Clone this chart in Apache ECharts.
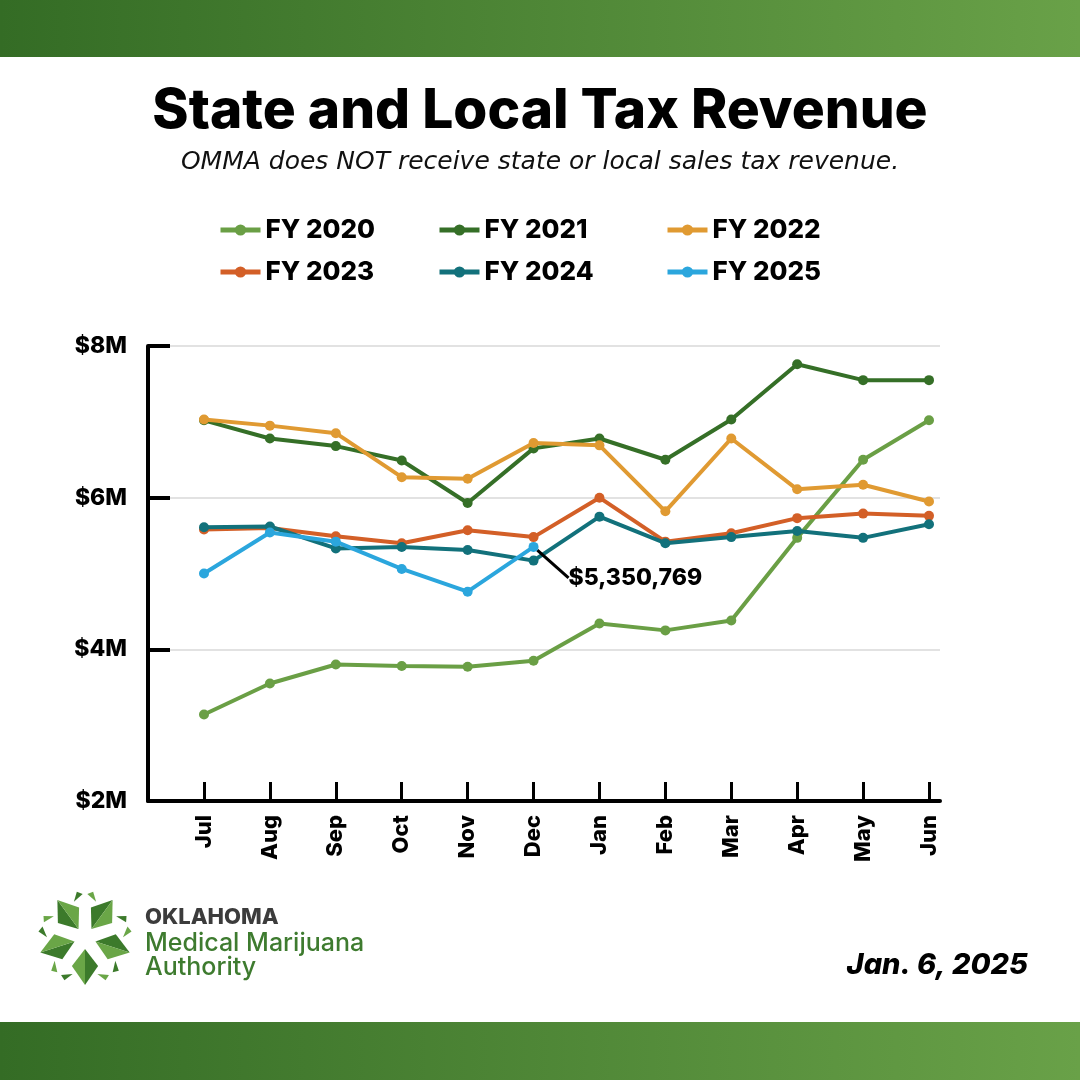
<!DOCTYPE html>
<html>
<head>
<meta charset="utf-8">
<script src="https://cdn.jsdelivr.net/npm/echarts@6/dist/echarts.min.js"></script>
<style>
html,body{margin:0;padding:0;background:#fff;}
#chart{width:1080px;height:1080px;}
</style>
</head>
<body>
<div id="chart"></div>
<script>
// ---- data (values in $ millions) ----
var months = ['Jul','Aug','Sep','Oct','Nov','Dec','Jan','Feb','Mar','Apr','May','Jun'];
var seriesNames = ['FY 2020','FY 2021','FY 2022','FY 2023','FY 2024','FY 2025'];
var fy2020 = [3.14,3.55,3.80,3.78,3.77,3.85,4.34,4.25,4.38,5.47,6.50,7.02];
var fy2021 = [7.02,6.78,6.68,6.49,5.93,6.65,6.78,6.50,7.03,7.76,7.55,7.55];
var fy2022 = [7.03,6.95,6.85,6.27,6.25,6.72,6.69,5.82,6.78,6.11,6.17,5.95];
var fy2023 = [5.58,5.60,5.49,5.40,5.57,5.48,6.00,5.42,5.53,5.73,5.79,5.76];
var fy2024 = [5.61,5.62,5.33,5.35,5.31,5.17,5.75,5.40,5.48,5.56,5.47,5.65];
var fy2025 = [5.00,5.54,5.42,5.06,4.76,5.350769];
var yTicks = [2,4,6,8];
var annotationIndex = 5;
var annotationText = '$5,350,769';

var colors = ['#6a9f45','#356f27','#e09a32','#d35f27','#12717b','#2ba6dd'];
var allData = [fy2020,fy2021,fy2022,fy2023,fy2024,fy2025];

var chart = echarts.init(document.getElementById('chart'), null, {renderer:'canvas'});
var FONT = 'Inter, "Open Sans", sans-serif';
var SUBFONT = '"DejaVu Sans", "Open Sans", sans-serif';

function mkSeries(i){
  var s = {
    name: seriesNames[i],
    type: 'line',
    xAxisIndex: 1, yAxisIndex: 1,
    data: allData[i].slice(),
    symbol: 'circle',
    symbolSize: 10,
    showSymbol: true,
    lineStyle: {width: 4, color: colors[i]},
    itemStyle: {color: colors[i]},
    emphasis: {disabled: true},
    animation: false,
    z: 3 + i
  };
  if (i === 5) {
    s.data = allData[i].map(function(v, k){
      if (k !== annotationIndex) return v;
      return {
        value: v,
        label: {
          show: true, position: 'right', formatter: annotationText,
          color: '#000', fontFamily: FONT, fontWeight: 800, fontSize: 23
        },
        labelLine: {show: true, lineStyle: {color: '#000', width: 3}}
      };
    });
    s.labelLayout = {dx: 25, dy: 31};
    s.labelLine = {show: true, lineStyle: {color: '#000', width: 3}};
  }
  return s;
}

// logo pieces (decorative)
function P(cx, cy, r, deg){ var a = deg*Math.PI/180; return [cx + r*Math.cos(a), cy + r*Math.sin(a)]; }
var logoShapes = [];
(function(){
  var cx = 85, cy = 938;
  for (var k = 0; k < 5; k++) {
    var t = -90 + 36 + 72*k;
    var inner = P(cx,cy,11,t), outer = P(cx,cy,47,t);
    logoShapes.push({type:'polygon', shape:{points:[inner,P(cx,cy,31,t-25),outer]},
      style:{fill:'#3c7a2b'}});
    logoShapes.push({type:'polygon', shape:{points:[inner,outer,P(cx,cy,31,t+25)]},
      style:{fill:'#6aa647'}});
    var tip = -90 + 72*k;
    logoShapes.push({type:'polygon', shape:{points:[P(cx,cy,38,tip-17),P(cx,cy,47,tip-10),P(cx,cy,44,tip-3)]},
      style:{fill:'#3c7a2b'}});
    logoShapes.push({type:'polygon', shape:{points:[P(cx,cy,44,tip+3),P(cx,cy,47,tip+10),P(cx,cy,38,tip+17)]},
      style:{fill:'#6aa647'}});
  }
})();

var bandGrad = new echarts.graphic.LinearGradient(0,0,1,0,[{offset:0,color:'#346c25'},{offset:1,color:'#69a148'}]);

var option = {
  backgroundColor: '#fff',
  animation: false,
  color: colors,
  title: {
    text: 'State and Local Tax Revenue',
    subtext: 'OMMA does NOT receive state or local sales tax revenue.',
    left: 'center', top: 79, itemGap: 11,
    textStyle: {fontFamily: FONT, fontWeight: 800, fontSize: 55, color: '#000'},
    subtextStyle: {fontFamily: SUBFONT, fontStyle: 'italic', fontWeight: 400, fontSize: 25, color: '#111'}
  },
  legend: [0,1,2].map(function(c){
    return {
      data: [seriesNames[c], seriesNames[c+3]],
      orient: 'vertical',
      left: [218, 437, 665][c], top: 217, padding: 0,
      itemWidth: 40, itemHeight: 14, itemGap: 16,
      lineStyle: {width: 5},
      textStyle: {fontFamily: FONT, fontWeight: 800, fontSize: 26, color: '#000', lineHeight: 26},
      selectedMode: false
    };
  }),
  grid: [
    {left: 148, right: 140, top: 346, bottom: 279, containLabel: false},
    {left: 204, right: 151, top: 346, bottom: 279, containLabel: false}
  ],
  xAxis: [
    {gridIndex: 0, type: 'value', min: 0, max: 1,
     axisLine: {show: true, lineStyle: {color: '#000', width: 4}},
     axisTick: {show: false}, axisLabel: {show: false}, splitLine: {show: false}},
    {gridIndex: 1, type: 'category', data: months, boundaryGap: false,
     axisLine: {show: false},
     axisTick: {show: true, inside: true, length: 19, lineStyle: {color: '#000', width: 3}},
     axisLabel: {rotate: 90, margin: 14, fontFamily: FONT, fontWeight: 800, fontSize: 22, color: '#000'},
     splitLine: {show: false}}
  ],
  yAxis: [
    {gridIndex: 0, type: 'value', min: 2, max: 8, interval: 2,
     axisLine: {show: true, lineStyle: {color: '#000', width: 4}},
     axisTick: {show: true, inside: true, length: 22, lineStyle: {color: '#000', width: 4}},
     axisLabel: {margin: 21, fontFamily: FONT, fontWeight: 800, fontSize: 23, color: '#000',
       formatter: function(v){ return '$' + v + 'M'; }},
     splitLine: {show: true, lineStyle: {color: '#e2e2e2', width: 2}}},
    {gridIndex: 1, type: 'value', min: 2, max: 8, interval: 2, show: false,
     splitLine: {show: false}}
  ],
  series: [0,1,2,3,4,5].map(mkSeries),
  graphic: [
    {type:'rect', shape:{x:0,y:0,width:1080,height:57}, style:{fill:bandGrad}, z:0},
    {type:'rect', shape:{x:0,y:1022,width:1080,height:58}, style:{fill:bandGrad}, z:0},
    {type:'group', children: logoShapes},
    {type:'text', left: 145, top: 906, style:{text:'OKLAHOMA', fontFamily: FONT, fontWeight: 800, fontSize: 22, fill:'#3c3c3c'}},
    {type:'text', left: 145, top: 931, style:{text:'Medical Marijuana', fontFamily: FONT, fontWeight: 500, fontSize: 25, fill:'#3e7b2f'}},
    {type:'text', left: 145, top: 955, style:{text:'Authority', fontFamily: FONT, fontWeight: 500, fontSize: 25, fill:'#3e7b2f'}},
    {type:'text', right: 52, top: 951, style:{text:'Jan. 6, 2025', fontFamily: FONT, fontWeight: 800, fontStyle:'italic', fontSize: 29, fill:'#000'}}
  ]
};
chart.setOption(option);
</script>
</body>
</html>
